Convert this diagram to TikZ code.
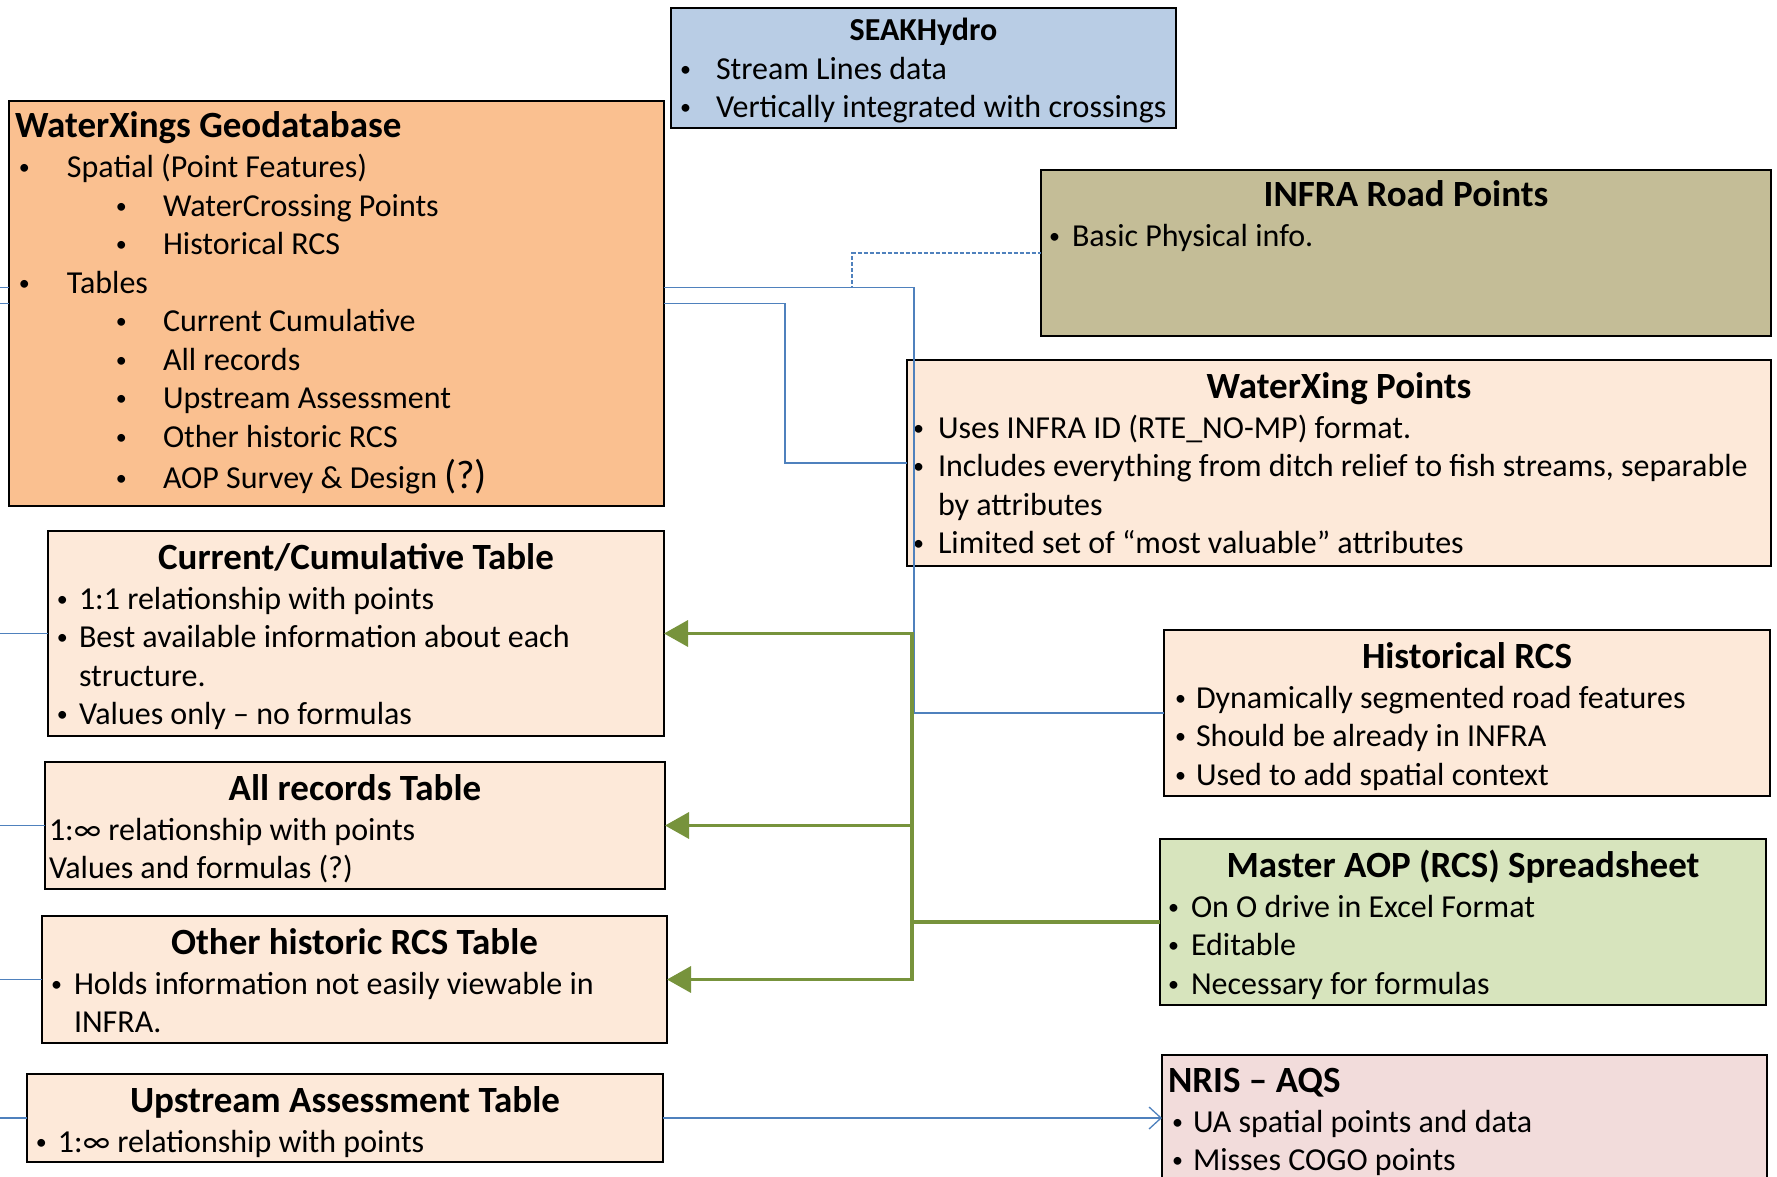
\documentclass[tikz,border=0pt]{standalone}
\usepackage{fontspec}
\setmainfont{Carlito}
\usetikzlibrary{arrows.meta}
\definecolor{seakblue}{RGB}{185,205,229}
\definecolor{geoorange}{RGB}{250,192,144}
\definecolor{infratan}{RGB}{196,189,151}
\definecolor{peach}{RGB}{253,233,217}
\definecolor{aopgreen}{RGB}{215,228,189}
\definecolor{nrispink}{RGB}{242,220,219}
\definecolor{linkblue}{RGB}{79,129,189}
\definecolor{feedgreen}{RGB}{119,147,60}
\tikzstyle{panel} = [
    draw=black,
    line width=1.5pt,
    inner sep=0pt,
    outer sep=0pt,
    anchor=north west
]
\tikzstyle{link} = [
    draw=linkblue,
    line width=1.3pt
]
\tikzstyle{feed} = [
    draw=feedgreen,
    line width=3.5pt,
    -{Triangle[length=24pt,width=26pt]}
]
% box content: width, height, lines
\newcommand{\panel}[3]{\parbox[t][#2pt][t]{#1pt}{\lineskiplimit=-100pt\parindent=0pt\parskip=0pt\raggedright\fontsize{32}{38.5}\selectfont #3}}
\newcommand{\heading}[2][38]{{\centering\fontsize{37}{38.5}\bfseries\selectfont\rule{0pt}{#1pt}#2\par}\vspace{1.5pt}}
\newcommand{\lheading}[2][37]{{\leftskip=6pt\fontsize{37}{38.5}\bfseries\selectfont\rule{0pt}{#1pt}#2\par}\vspace{1.5pt}}
\newcommand{\dotmark}{\raisebox{3pt}{\fontsize{22}{22}\selectfont\textbullet}}
% bullet offset, text offset, text
\newcommand{\bul}[3]{{\leftskip=#2pt\noindent\hskip\dimexpr#1pt-#2pt\relax\makebox[\dimexpr#2pt-#1pt\relax][l]{\dotmark}#3\par}}
\newcommand{\plain}[2]{{\leftskip=#1pt\noindent#2\par}}

\begin{document}
\begin{tikzpicture}[x=1pt,y=-1pt]
    \useasboundingbox (0,0) rectangle (1777,1177);
    \coordinate (edge) at (0,0);

    % Sources
    \node[panel, fill=seakblue] (seak) at (671,8) {\panel{505}{120}{%
        {\centering\bfseries\rule{0pt}{33pt}SEAKHydro\par}
        \bul{9}{45}{Stream Lines data}
        \bul{9}{45}{Vertically integrated with crossings}}};
    \node[panel, fill=geoorange] (geo) at (9,101) {\panel{655}{405}{%
        \lheading{WaterXings Geodatabase}
        \bul{10}{58}{Spatial (Point Features)}
        \bul{107}{154}{WaterCrossing Points}
        \bul{107}{154}{Historical RCS}
        \bul{10}{58}{Tables}
        \bul{107}{154}{Current Cumulative}
        \bul{107}{154}{All records}
        \bul{107}{154}{Upstream Assessment}
        \bul{107}{154}{Other historic RCS}
        \vspace{3pt}
        \bul{107}{154}{AOP Survey \& Design {\fontsize{40}{38.5}\selectfont(?)}}}};
    \node[panel, fill=infratan] (infra) at (1041,170) {\panel{730}{166}{%
        \heading[37]{INFRA Road Points}
        \bul{8}{31}{Basic Physical info.}}};
    \node[panel, fill=peach] (wxpts) at (907,360) {\panel{864}{206}{%
        \heading{WaterXing Points}
        \bul{6}{31}{Uses INFRA ID (RTE\_NO-MP) format.}
        \bul{6}{31}{Includes everything from ditch relief to fish streams, separable\\by attributes}
        \bul{6}{31}{Limited set of “most valuable” attributes}}};

    % Tables
    \node[panel, fill=peach] (cur) at (48,531) {\panel{616}{205}{%
        \heading{Current/Cumulative Table}
        \bul{9}{31}{1:1 relationship with points}
        \bul{9}{31}{Best available information about each\\structure.}
        \bul{9}{31}{Values only -- no formulas}}};
    \node[panel, fill=peach] (allrec) at (45,762) {\panel{620}{127}{%
        \heading{All records Table}
        \plain{4}{1:∞ relationship with points}
        \plain{4}{Values and formulas (?)}}};
    \node[panel, fill=peach] (other) at (42,916) {\panel{625}{127}{%
        \heading{Other historic RCS Table}
        \bul{9}{32}{Holds information not easily viewable in\\INFRA.}}};
    \node[panel, fill=peach] (ups) at (27,1074) {\panel{636}{88}{%
        \heading{Upstream Assessment Table}
        \bul{9}{31}{1:∞ relationship with points}}};

    % Right column
    \node[panel, fill=peach] (hist) at (1164,630) {\panel{606}{166}{%
        \heading{Historical RCS}
        \bul{11}{32}{Dynamically segmented road features}
        \bul{11}{32}{Should be already in INFRA}
        \bul{11}{32}{Used to add spatial context}}};
    \node[panel, fill=aopgreen] (master) at (1160,839) {\panel{606}{166}{%
        \heading{Master AOP (RCS) Spreadsheet}
        \bul{8}{31}{On O drive in Excel Format}
        \bul{8}{31}{Editable}
        \bul{8}{31}{Necessary for formulas}}};
    \node[panel, fill=nrispink] (nris) at (1162,1055) {\panel{605}{140}{%
        \lheading{NRIS -- AQS}
        \bul{10}{31}{UA spatial points and data}
        \bul{10}{31}{Misses COGO points}}};

    % Blue links
    \draw[link, dash pattern=on 4pt off 2pt] ([yshift=16pt]geo.east) -- ++(188,0) |- (infra.west);
    \draw[link] ([yshift=16pt]geo.east) -- ++(250,0) |- (hist.west);
    \draw[link] (geo.east) -- ++(121,0) |- (wxpts.west);
    \draw[link, -{Straight Barb[length=12pt,width=22pt]}] (ups.east) -- (ups.east -| nris.west);
    \draw[link] ([yshift=16pt]geo.west) -- ++(-9,0);
    \foreach \n in {geo,cur,allrec,other,ups}
        \draw[link] (\n.west) -- (\n.west -| edge);

    % Green feeds from the spreadsheet
    \foreach \n in {cur,allrec,other}
        \draw[feed] (master.west) -- ++(-248,0) |- (\n.east);
\end{tikzpicture}
\end{document}
